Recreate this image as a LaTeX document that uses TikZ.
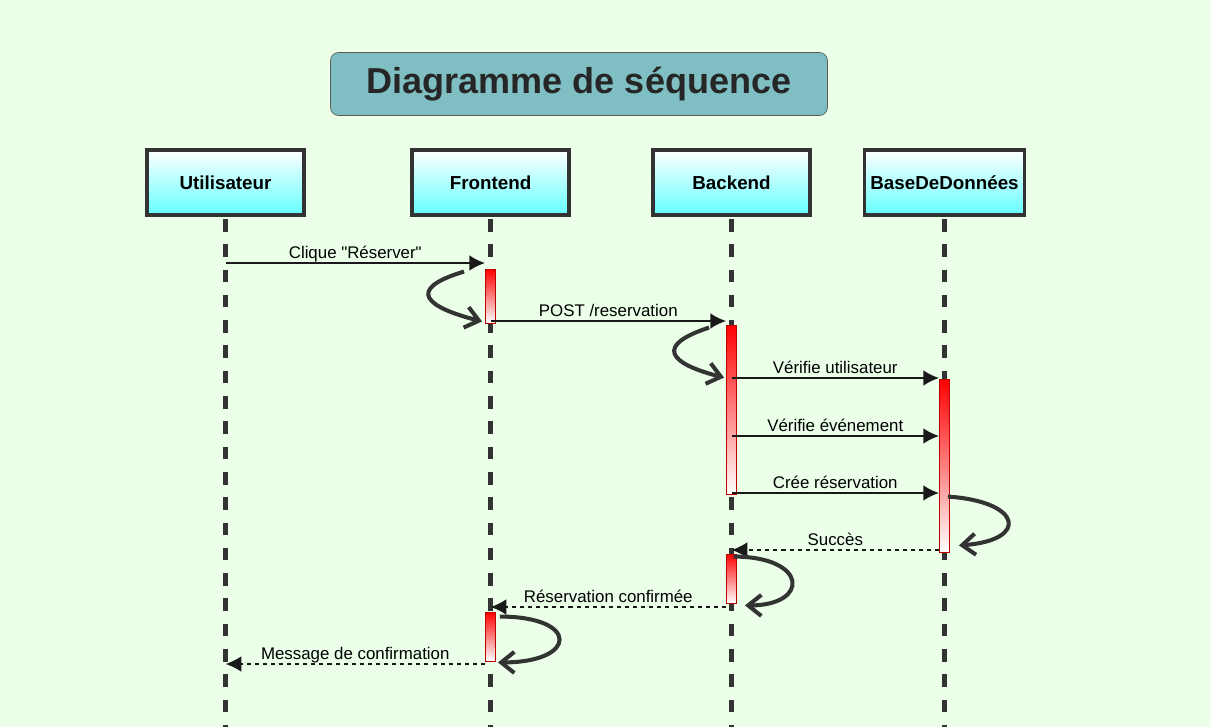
\documentclass[tikz,border=0pt]{standalone}
\usepackage{fontspec}
\setmainfont{Liberation Sans}[Ligatures=TeXOff]
\usetikzlibrary{arrows.meta,calc}
\definecolor{bgc}{RGB}{235,255,233}
\definecolor{titlefill}{RGB}{127,190,195}
\definecolor{boxcyan}{RGB}{100,255,255}
\definecolor{linegray}{RGB}{51,51,51}
\tikzset{
  actor/.style={draw=linegray, line width=2.2pt, top color=white, bottom color=boxcyan, minimum width=3.14cm, minimum height=1.3cm, font=\bfseries\fontsize{10.7}{12}\selectfont},
  lifeline/.style={draw=linegray, line width=2.3pt, dash pattern=on 7.2pt off 7.2pt},
  act/.style={draw=red!75!black, line width=0.5pt, top color=red, bottom color=white, minimum width=0.2cm, inner sep=0pt},
  msg/.style={draw=black!90, line width=1.15pt, -{Latex[length=9pt,width=9pt]}},
  reply/.style={msg, dash pattern=on 2.3pt off 2.3pt},
  selfloop/.style={draw=linegray, line width=2.3pt, -{Straight Barb[length=7.5pt,width=12pt]}},
  lbl/.style={above, inner sep=0pt, text depth=0.2em, font=\fontsize{9.6}{11}\selectfont}
}
\begin{document}
\begin{tikzpicture}[x=0.02cm, y=-0.02cm]
\useasboundingbox (0,0) rectangle (1211,727);
\fill[bgc] (0,0) rectangle (1211,727);
\node[draw=linegray!80, fill=titlefill, rounded corners=0.16cm, minimum width=9.94cm, minimum height=1.26cm, font=\bfseries\fontsize{20.5}{24}\selectfont, text=black!85] (title) at (579,84) {Diagramme de séquence};
\foreach \name/\lbl/\x in {u/Utilisateur/225.5, f/Frontend/490.5, b/Backend/731.5, d/BaseDeDonnées/944.5}
{
    \node[actor] (\name) at (\x,182.5) {\lbl};
    \draw[lifeline] ($(\name.south)+(0,2)$) -- (\name.south |- 0,745);
}
\node[act, minimum height=1.08cm] (fa) at (f |- 0,296) {};
\node[act, minimum height=3.38cm] (ba) at (b |- 0,409.5) {};
\node[act, minimum height=3.46cm] (da) at (d |- 0,465.5) {};
\node[act, minimum height=0.98cm] (bb) at (b |- 0,578.5) {};
\node[act, minimum height=0.98cm] (fb) at (f |- 0,636.5) {};
\draw[msg] (u |- 0,263) -- node[lbl] {Clique "Réserver"} (fa.west |- 0,263);
\draw[msg] (fa |- 0,321) -- node[lbl] {POST /reservation} (ba.west |- 0,321);
\draw[msg] (ba |- 0,378) -- node[lbl] {Vérifie utilisateur} (da.west |- 0,378);
\draw[msg] (ba |- 0,436) -- node[lbl] {Vérifie événement} (da.west |- 0,436);
\draw[msg] (ba |- 0,493) -- node[lbl] {Crée réservation} (da.west |- 0,493);
\draw[reply] (da.west |- 0,550) -- node[lbl] {Succès} (b |- 0,550);
\draw[reply] (bb.west |- 0,607) -- node[lbl] {Réservation confirmée} (f |- 0,607);
\draw[reply] (fb.west |- 0,664) -- node[lbl] {Message de confirmation} (u |- 0,664);
\draw[selfloop] ($(fa.north west)+(-21,3)$) .. controls +(-60,18) and +(-55,-14) .. ($(fa.south west)+(-3,-2)$);
\draw[selfloop] ($(ba.north west)+(-17,3)$) .. controls +(-55,18) and +(-55,-14) .. ($(ba.north west)+(-2,53)$);
\draw[selfloop] ($(da.north east)+(-2,118)$) .. controls +(75,5) and +(70,-5) .. ($(da.south east)+(9,-7)$);
\draw[selfloop] ($(bb.north)+(2,3)$) .. controls +(75,0) and +(65,0) .. ($(bb.south east)+(8,2)$);
\draw[selfloop] ($(fb.north east)+(4,5)$) .. controls +(80,0) and +(80,0) .. ($(fb.south east)+(2,1)$);
\end{tikzpicture}
\end{document}
